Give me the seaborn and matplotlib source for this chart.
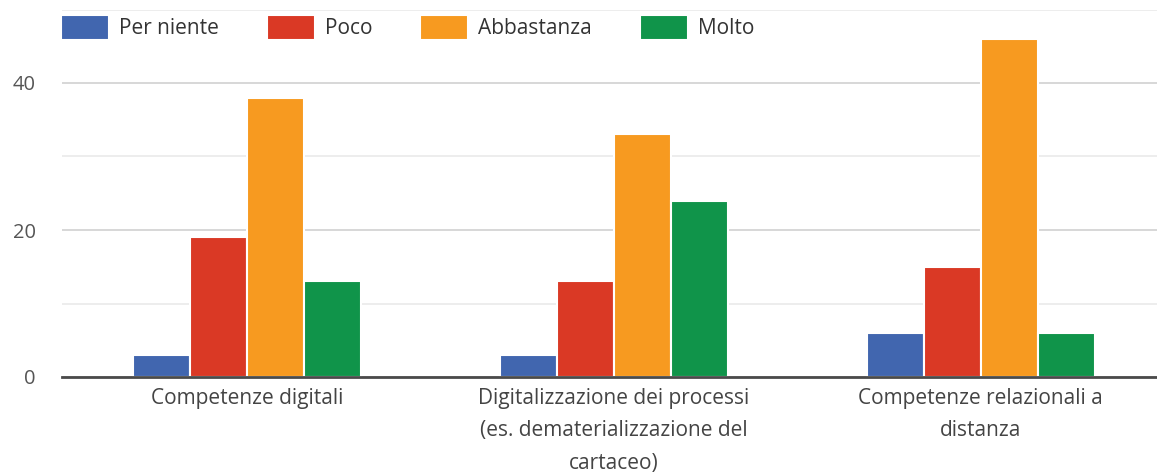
import matplotlib
matplotlib.use("Agg")
import matplotlib.pyplot as plt
import seaborn as sns
import pandas as pd

categories = [
    "Competenze digitali",
    "Digitalizzazione dei processi\n(es. dematerializzazione del\ncartaceo)",
    "Competenze relazionali a\ndistanza",
]
responses = ["Per niente", "Poco", "Abbastanza", "Molto"]
per_niente = [3, 3, 6]
poco = [19, 13, 15]
abbastanza = [38, 33, 46]
molto = [13, 24, 6]
colors = ["#4166AF", "#DA3925", "#F79A20", "#10944A"]

rows = []
for resp, vals in zip(responses, [per_niente, poco, abbastanza, molto]):
    for cat, v in zip(categories, vals):
        rows.append({"cat": cat, "resp": resp, "val": v})
df = pd.DataFrame(rows)

sns.set_theme(style="white")
plt.rcParams["font.family"] = ["Open Sans", "DejaVu Sans"]

fig = plt.figure(figsize=(11.57, 4.75), dpi=100)
ax = fig.add_axes([62 / 1157, 1 - 377 / 475, 1 - 62 / 1157, (377 - 9.5) / 475])

sns.barplot(data=df, x="cat", y="val", hue="resp", hue_order=responses,
            order=categories, palette=colors, width=0.62, edgecolor="white",
            linewidth=1.5, saturation=1, ax=ax, zorder=3)

ax.set_ylim(0, 50)
ax.set_xlim(-0.504, 2.48)
ax.set_yticks([0, 20, 40])
ax.set_yticks([10, 30, 50], minor=True)
ax.grid(axis="y", which="major", color="#d4d4d4", linewidth=1.3, zorder=0)
ax.grid(axis="y", which="minor", color="#ececec", linewidth=1.3, zorder=0)
ax.set_axisbelow(True)
for s in ["top", "left", "right"]:
    ax.spines[s].set_visible(False)
ax.spines["bottom"].set_color("#4a4a4a")
ax.spines["bottom"].set_linewidth(2)
ax.spines["bottom"].set_zorder(5)
ax.tick_params(axis="both", which="both", length=0)
ax.tick_params(axis="y", labelsize=14.5, labelcolor="#555555", pad=19)
ax.tick_params(axis="x", labelsize=15, labelcolor="#444444", pad=8)
for t in ax.get_xticklabels():
    t.set_linespacing(1.7)
ax.set_xlabel("")
ax.set_ylabel("")

ax.legend(loc="upper left", bbox_to_anchor=(61 / 1157, 1 - 15 / 475),
          bbox_transform=fig.transFigure, ncol=4, frameon=False,
          fontsize=15, handlelength=2.3, handleheight=1.47,
          handletextpad=0.48, columnspacing=2.3, borderpad=0, borderaxespad=0,
          labelcolor="#333333")

fig.savefig("out.png", dpi=100)
